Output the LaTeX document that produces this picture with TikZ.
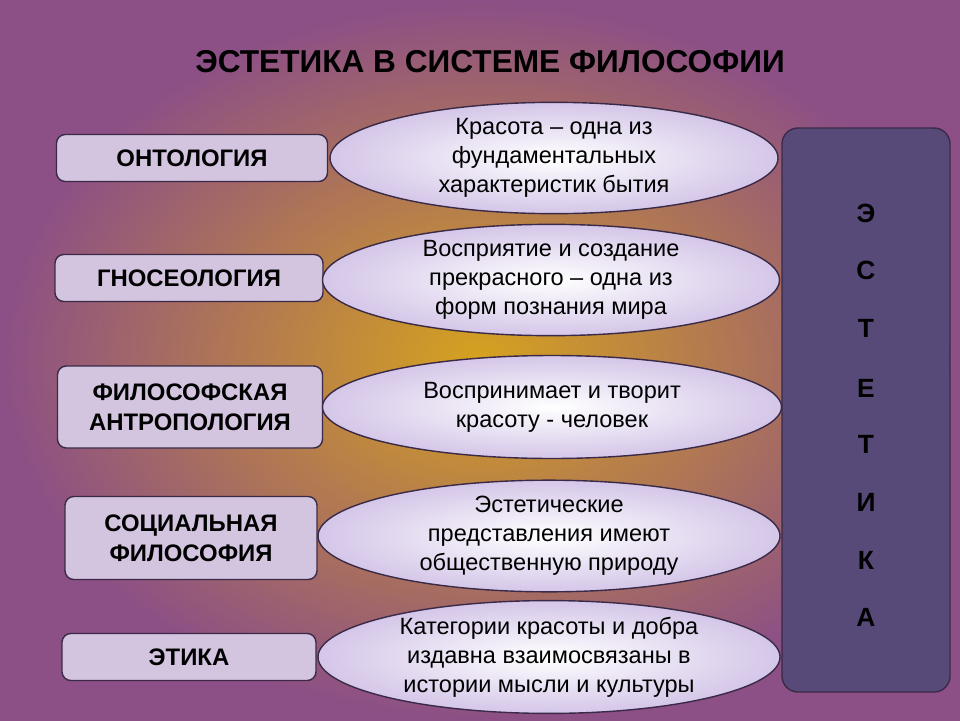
\documentclass[tikz,border=0pt]{standalone}
\usepackage{fontspec}
\setmainfont{Liberation Sans}
\usetikzlibrary{shapes.geometric}
\definecolor{gold}{HTML}{D6A21E}
\definecolor{plum}{HTML}{8C4F86}
\definecolor{lilac}{HTML}{D4C6E8}
\definecolor{boxlilac}{HTML}{D3C5DF}
\definecolor{inkpurple}{HTML}{3A2A48}
\definecolor{slate}{HTML}{574A78}
\tikzset{
  areabox/.style={draw=inkpurple, line width=0.8pt, rounded corners=5pt, fill=boxlilac,
    align=center, font=\fontsize{13.6}{17}\selectfont\bfseries, inner sep=0pt},
  thesis/.style={ellipse, draw=inkpurple, line width=0.8pt, inner color=white, outer color=lilac,
    align=center, font=\fontsize{13.4}{16.4}\selectfont, inner sep=0pt},
  letter/.style={font=\fontsize{15}{16}\selectfont\bfseries}
}
\begin{document}
\begin{tikzpicture}[x=0.02cm, y=-0.02cm]
  % background
  \shade[inner color=gold, outer color=plum] (0,0) rectangle (960,720);
  \useasboundingbox (0,0) rectangle (960,720);

  \node[font=\fontsize{18}{20}\selectfont\bfseries] (title) at (490,62) {ЭСТЕТИКА В СИСТЕМЕ ФИЛОСОФИИ};

  % left column
  \node[areabox, minimum width=271*0.02cm, minimum height=47*0.02cm] (onto) at (192,158) {ОНТОЛОГИЯ};
  \node[areabox, minimum width=268*0.02cm, minimum height=47*0.02cm] (gnos) at (189,278) {ГНОСЕОЛОГИЯ};
  \node[areabox, minimum width=265*0.02cm, minimum height=82*0.02cm] (anthr) at (190,407) {ФИЛОСОФСКАЯ\\АНТРОПОЛОГИЯ};
  \node[areabox, minimum width=252*0.02cm, minimum height=83*0.02cm] (soc) at (191,538) {СОЦИАЛЬНАЯ\\ФИЛОСОФИЯ};
  \node[areabox, minimum width=254*0.02cm, minimum height=47*0.02cm] (eth) at (189,657) {ЭТИКА};

  % right column
  \node[draw=inkpurple, line width=0.8pt, fill=slate, rounded corners=16*0.02cm,
        minimum width=168*0.02cm, minimum height=564*0.02cm] (aest) at (866,410) {};

  % ellipses
  \node[thesis, minimum width=448*0.02cm, minimum height=103*0.02cm] (e1) at (554,158) {Красота -- одна из\\фундаментальных\\характеристик бытия};
  \node[thesis, minimum width=457*0.02cm, minimum height=96*0.02cm] (e2) at (551,280) {Восприятие и создание\\прекрасного -- одна из\\форм познания мира};
  \node[thesis, minimum width=459*0.02cm, minimum height=103*0.02cm] (e3) at (552,407) {Воспринимает и творит\\красоту - человек};
  \node[thesis, minimum width=462*0.02cm, minimum height=108*0.02cm] (e4) at (549,536) {Эстетические\\представления имеют\\общественную природу};
  \node[thesis, minimum width=462*0.02cm, minimum height=95*0.02cm] (e5) at (549,657) {Категории красоты и добра\\издавна взаимосвязаны в\\истории мысли и культуры};

  % letters
  \node[letter] (l1) at (866,213) {Э};
  \node[letter] (l2) at (866,270) {С};
  \node[letter] (l3) at (866,328) {Т};
  \node[letter] (l4) at (866,388) {Е};
  \node[letter] (l5) at (866,444) {Т};
  \node[letter] (l6) at (866,502) {И};
  \node[letter] (l7) at (866,560) {К};
  \node[letter] (l8) at (866,617) {А};
\end{tikzpicture}
\end{document}
